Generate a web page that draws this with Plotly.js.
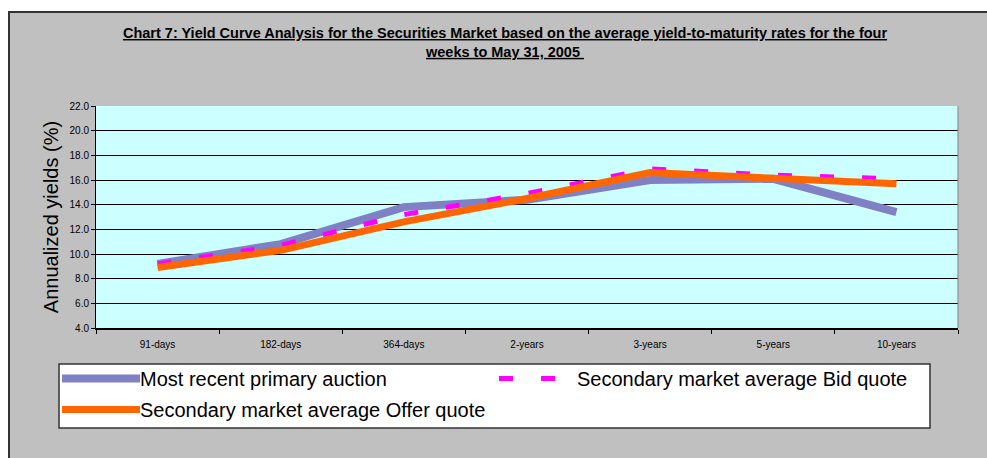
<!DOCTYPE html>
<html>
<head>
<meta charset="utf-8">
<script src="https://cdn.plot.ly/plotly-3.0.1.min.js"></script>
<style>
  html, body { margin: 0; padding: 0; background: #ffffff; }
  #wrap { position: relative; width: 987px; height: 458px; overflow: hidden; }
  #frame { position: absolute; left: 8px; top: 11px; width: 990px; height: 460px;
           background: #C0C0C0; border-left: 2px solid #333; border-top: 2px solid #333; }
  #chart { position: absolute; left: 0; top: 0; width: 987px; height: 458px; }
</style>
</head>
<body>
<div id="wrap">
  <div id="frame"></div>
  <div id="chart"></div>
</div>
<script>
// ---- data ----
const categories = ["91-days", "182-days", "364-days", "2-years", "3-years", "5-years", "10-years"];
const primaryAuction = [9.2, 10.8, 13.8, 14.4, 16.0, 16.1, 13.4];
const bidQuote = [9.2, 10.7, 13.2, 14.9, 16.9, 16.4, 16.1];
const offerQuote = [8.9, 10.3, 12.6, 14.5, 16.6, 16.1, 15.7];
const seriesNames = ["Most recent primary auction", "Secondary market average Bid quote", "Secondary market average Offer quote"];
const titleLines = ["Chart 7: Yield Curve Analysis for the Securities Market based on the average yield-to-maturity rates for the four", "weeks to May 31, 2005 "];
const yTitle = "Annualized yields (%)";

const FONT = "Arial, 'Liberation Sans', sans-serif";

const traces = [
  { x: categories, y: primaryAuction, name: seriesNames[0], type: "scatter", mode: "lines",
    line: { color: "#8080C4", width: 8 }, legend: "legend" },
  { x: categories, y: bidQuote, name: seriesNames[1], type: "scatter", mode: "lines",
    line: { color: "#FF00FF", width: 5, dash: "14px,28px" }, legend: "legend" },
  { x: categories, y: offerQuote, name: seriesNames[2], type: "scatter", mode: "lines",
    line: { color: "#FF6600", width: 7 }, legend: "legend2" }
];

const legendCommon = {
  orientation: "h", x: -0.0429, xanchor: "left", yanchor: "middle",
  bgcolor: "rgba(0,0,0,0)", borderwidth: 0,
  font: { size: 20, family: FONT, color: "#000" },
  entrywidth: 351, entrywidthmode: "pixels", itemwidth: 71,
  traceorder: "normal"
};

const layout = {
  width: 987, height: 458,
  margin: { l: 96, r: 29, t: 106, b: 130, autoexpand: false },
  paper_bgcolor: "rgba(0,0,0,0)",
  plot_bgcolor: "#CCFFFF",
  font: { family: FONT, color: "#000" },
  title: {
    text: "<b><u>" + titleLines[0] + "</u></b><br><b><u>" + titleLines[1] + "</u></b>",
    font: { size: 14.5, family: FONT, color: "#000" },
    x: 505 / 987, xref: "container", xanchor: "center",
    y: 1 - 38 / 458, yref: "container", yanchor: "middle"
  },
  xaxis: {
    type: "category", range: [-0.5, 6.5],
    tickson: "boundaries", ticks: "outside", ticklen: 4, tickcolor: "#000",
    ticklabelstandoff: 6,
    showline: true, linecolor: "#000", linewidth: 2,
    showgrid: false, zeroline: false, automargin: false,
    tickfont: { size: 10, family: FONT, color: "#000" }
  },
  yaxis: {
    range: [4, 22], dtick: 2, tick0: 4, tickformat: ".1f",
    ticks: "outside", ticklen: 4, tickcolor: "#000",
    showline: true, linecolor: "#000", linewidth: 1,
    showgrid: true, gridcolor: "#000", gridwidth: 1, zeroline: false, automargin: false,
    tickfont: { size: 10, family: FONT, color: "#000" },
    title: { text: yTitle, font: { size: 20, family: FONT, color: "#000" }, standoff: 5 }
  },
  shapes: [
    { type: "line", xref: "paper", yref: "paper", x0: 1, x1: 1, y0: 0, y1: 1,
      line: { color: "#808080", width: 1 } },
    { type: "rect", xref: "paper", yref: "paper", layer: "above",
      x0: -0.0429, x1: 0.9675, y0: -0.4505, y1: -0.1622,
      fillcolor: "#FFFFFF", line: { color: "#333", width: 1.5 } }
  ],
  showlegend: true,
  legend: Object.assign({}, legendCommon, { y: -0.2275 }),
  legend2: Object.assign({}, legendCommon, { y: -0.367 })
};

Plotly.newPlot("chart", traces, layout, { displayModeBar: false, staticPlot: true }).then(function () {
  document.querySelectorAll("#chart .legendlines path").forEach(function (p) {
    p.setAttribute("d", "M3,0h78");
  });
});
</script>
</body>
</html>
